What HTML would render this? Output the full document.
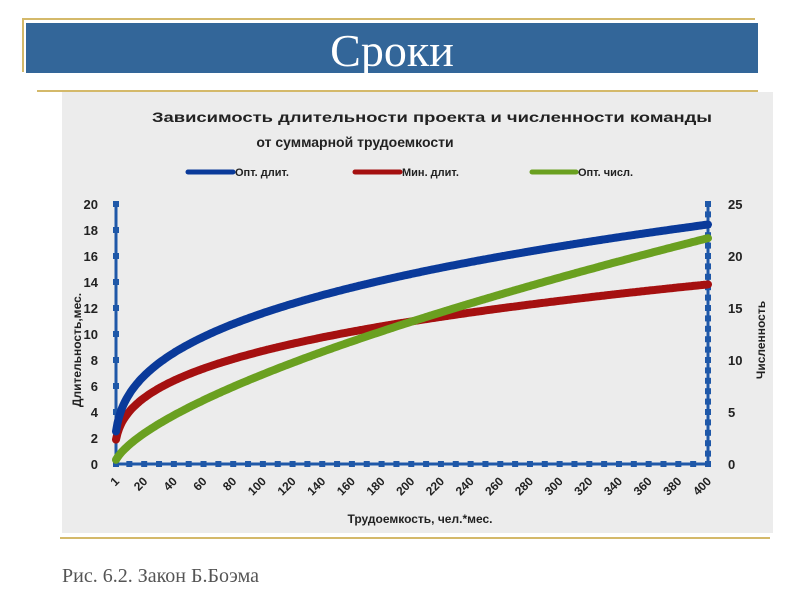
<!DOCTYPE html>
<html><head><meta charset="utf-8"><style>
body{margin:0;width:800px;height:600px;background:#fff;position:relative;overflow:hidden;font-family:"Liberation Sans",sans-serif}
.abs{position:absolute}
</style></head><body>
<div class="abs" style="left:22px;top:18px;width:733px;height:2px;background:#d4b96a"></div>
<div class="abs" style="left:22px;top:18px;width:2px;height:54px;background:#d4b96a"></div>
<div class="abs" style="left:26px;top:23px;width:732px;height:50px;background:#336699"></div>
<div class="abs" style="left:26px;top:23px;width:732px;height:50px;color:#fff;font:46px 'Liberation Serif',serif;text-align:center;line-height:56px">Сроки</div>
<div class="abs" style="left:37px;top:90px;width:721px;height:2px;background:#d4b96a"></div>
<div class="abs" style="left:62px;top:92px;width:711px;height:441px;background:#ececec"></div>
<div class="abs" style="left:60px;top:537px;width:710px;height:2px;background:#d4b96a"></div>
<div class="abs" style="left:62px;top:565px;font:20px 'Liberation Serif',serif;color:#555">Рис. 6.2. Закон Б.Боэма</div>
<svg class="abs" style="left:0;top:0" width="800" height="600" id="s">
<g font-family="Liberation Sans, sans-serif" font-weight="bold" fill="#222">
<text x="432" y="122" font-size="14" text-anchor="middle" textLength="560" lengthAdjust="spacingAndGlyphs">Зависимость длительности проекта и численности команды</text>
<text x="355" y="147" font-size="14" text-anchor="middle">от суммарной трудоемкости</text>
<text x="235" y="176" font-size="11">Опт. длит.</text>
<text x="402" y="176" font-size="11">Мин. длит.</text>
<text x="578" y="176" font-size="11">Опт. числ.</text>
<text x="420" y="523" font-size="12" text-anchor="middle">Трудоемкость, чел.*мес.</text>
<text transform="translate(81,350) rotate(-90)" font-size="12" text-anchor="middle">Длительность,мес.</text>
<text transform="translate(765,340) rotate(-90)" font-size="12" text-anchor="middle">Численность</text>
</g>
<line x1="188" y1="172" x2="233" y2="172" stroke="#0a3a9a" stroke-width="5" stroke-linecap="round"/>
<line x1="355" y1="172" x2="400" y2="172" stroke="#a51010" stroke-width="5" stroke-linecap="round"/>
<line x1="532" y1="172" x2="576" y2="172" stroke="#6aa020" stroke-width="5" stroke-linecap="round"/>
<g id="ax"></g><g id="cv"></g>
</svg>
<script>
var ns="http://www.w3.org/2000/svg",ax=document.getElementById('ax'),cv=document.getElementById('cv');
function el(p,t,a,txt){var e=document.createElementNS(ns,t);for(var k in a)e.setAttribute(k,a[k]);if(txt!==undefined)e.textContent=txt;p.appendChild(e);return e;}
var X0=116,X1=708,Y0=464,Y1=204,B='#1f58a8';
function X(v){return X0+(v-1)/399*(X1-X0);}
el(ax,'line',{x1:X0,y1:Y1,x2:X0,y2:Y0,stroke:B,'stroke-width':3});
el(ax,'line',{x1:X1,y1:Y1,x2:X1,y2:Y0,stroke:B,'stroke-width':3});
el(ax,'line',{x1:X0,y1:Y0,x2:X1,y2:Y0,stroke:B,'stroke-width':3});
for(var i=0;i<=10;i++){var y=Y0-i*(Y0-Y1)/10;el(ax,'rect',{x:X0-3,y:y-3,width:6,height:6,fill:B});
el(ax,'text',{x:X0-18,y:y+5,'font-size':13,'font-weight':'bold','text-anchor':'end',fill:'#222','font-family':'Liberation Sans'},String(i*2));}
for(var i=0;i<=25;i++){var y=Y0-i*(Y0-Y1)/25;el(ax,'rect',{x:X1-3,y:y-3,width:6,height:6,fill:B});
if(i%5==0)el(ax,'text',{x:X1+20,y:y+5,'font-size':13,'font-weight':'bold',fill:'#222','font-family':'Liberation Sans'},String(i));}
for(var v=1;v<=400;v+=(v==1?9:10)){var x=X(v);el(ax,'rect',{x:x-3,y:Y0-3,width:6,height:6,fill:B});}
var labs=[1];for(var v=20;v<=400;v+=20)labs.push(v);
labs.forEach(function(v){var x=X(v)+4;el(ax,'text',{transform:'translate('+x+',482) rotate(-45)','font-size':12,'font-weight':'bold','text-anchor':'end',fill:'#222','font-family':'Liberation Sans'},String(v));});
function curve(f,sc,col){var p=[];for(var e=1;e<=400;e+=1){p.push(X(e).toFixed(1)+','+(Y0-f(e)*sc).toFixed(1));}
el(cv,'polyline',{points:p.join(' '),fill:'none',stroke:col,'stroke-width':8,'stroke-linecap':'round'});}
var sl=(Y0-Y1)/20,sr=(Y0-Y1)/25;
curve(function(e){return 2.5*Math.cbrt(e)*0.75},sl,'#a51010');
curve(function(e){return e/(2.5*Math.cbrt(e))},sr,'#6aa020');
curve(function(e){return 2.5*Math.cbrt(e)},sl,'#0a3a9a');
</script>
</body></html>
